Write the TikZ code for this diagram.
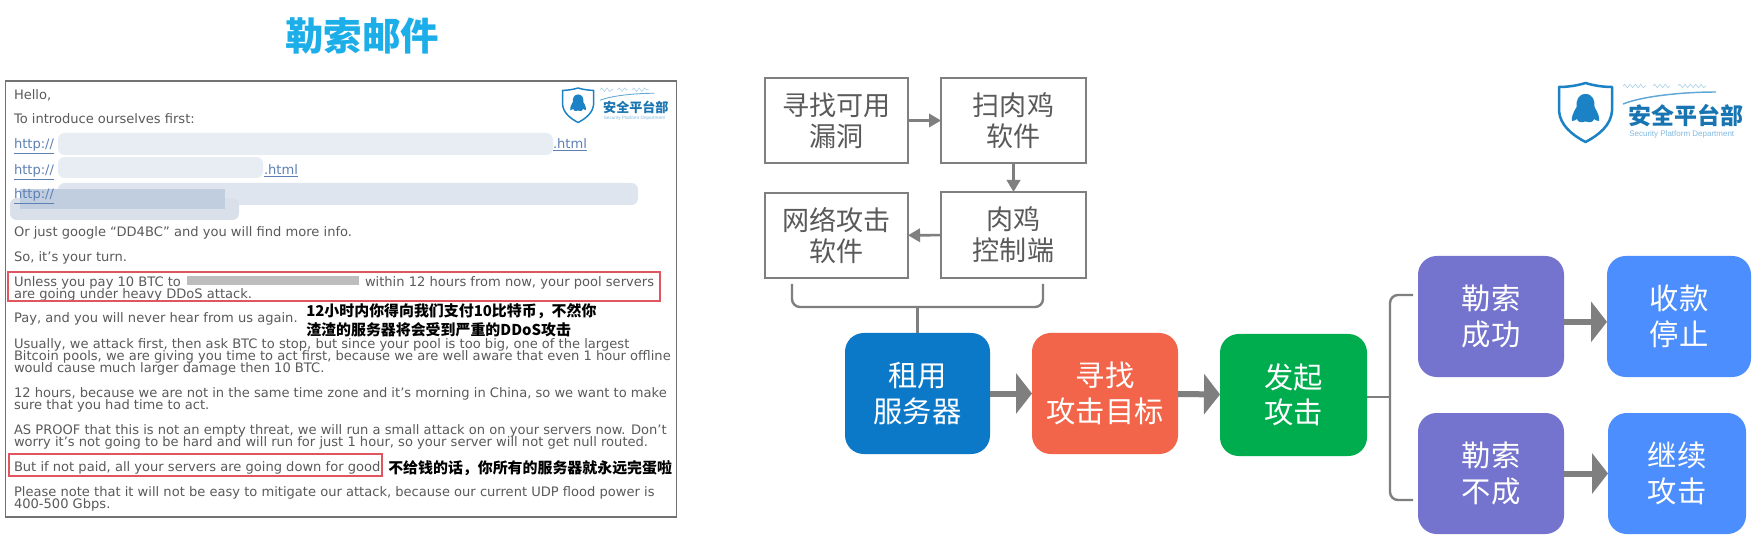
\documentclass[tikz,border=0pt]{standalone}
\usepackage{fontspec}
\setmainfont{DejaVu Sans}
\newfontfamily\cjk{Noto Sans CJK SC}
\newfontfamily\lib{Liberation Sans}
\usetikzlibrary{arrows.meta,decorations.pathmorphing}
\definecolor{mailgray}{HTML}{5A5A5A}
\definecolor{linkblue}{HTML}{5E80B4}
\definecolor{redbox}{HTML}{DF5560}
\definecolor{titleblue}{HTML}{1CAEE8}
\definecolor{arrowgray}{HTML}{7F7F7F}
\definecolor{logoblue}{HTML}{1C82C6}
\definecolor{cblue}{HTML}{0B78C8}
\definecolor{corange}{HTML}{F2654A}
\definecolor{cgreen}{HTML}{00AD4E}
\definecolor{cpurple}{HTML}{7473CE}
\definecolor{clight}{HTML}{4C8EFD}
\definecolor{blurA}{HTML}{E8EDF4}
\definecolor{blurB}{HTML}{DEE5EF}
\definecolor{blurC}{HTML}{D9E0EA}
\definecolor{blurD}{HTML}{C0CEE0}
\definecolor{blurE}{HTML}{BDBDBD}
\tikzset{
  sz/.style 2 args={minimum width=#1*0.75pt,minimum height=#2*0.75pt,inner sep=0pt,outer sep=0pt},
  mailtext/.style={anchor=base west,inner sep=0pt,outer sep=0pt,yshift=-1.1pt,text=mailgray,font=\fontsize{9.8pt}{11pt}\selectfont},
  maillink/.style={mailtext,text=linkblue},
  annot/.style={anchor=base west,inner sep=0pt,text=black,font=\cjk\bfseries\fontsize{11.2pt}{13pt}\selectfont},
  outlinebox/.style={draw=arrowgray,line width=1.9pt,fill=white,align=center,text=mailgray,font=\cjk\fontsize{20.3pt}{23.5pt}\selectfont},
  fillbox/.style={rounded corners=14pt,fill=#1,align=center,text=white,font=\cjk\fontsize{22pt}{26.5pt}\selectfont},
  thinarrow/.style={draw=arrowgray,line width=1.9pt,-{Triangle[length=9pt,width=10pt]}},
  thickarrow/.style={draw=arrowgray,line width=4.5pt,-{Triangle[length=12pt,width=30pt]}},
  bracket/.style={draw=arrowgray,line width=1.8pt,rounded corners=6pt},
  redframe/.style={draw=redbox,line width=1.3pt},
  blurpatch/.style={fill=#1,rounded corners=5pt},
  squiggle/.style={draw=logoblue!40,line width=.4pt,decorate,decoration={snake,amplitude=1.3pt,segment length=4pt}}
}
\newcommand{\seclogo}[6]{% prefix,x,y,scale,cjk size,small size
\begin{scope}[shift={(#2,#3)},scale=#4,name prefix=#1]
  \draw[draw=logoblue,line width=#4*1.9pt,fill=white,line join=round] (27.5,0) .. controls (18,3) and (8,4) .. (1,4) -- (1,28) .. controls (2,42) and (14,52) .. (27.5,59) .. controls (41,52) and (53,42) .. (54,28) -- (54,4) .. controls (47,4) and (37,3) .. (27.5,0) -- cycle;
  \fill[logoblue] (27.5,11) .. controls (20,11) and (18,18) .. (18.5,24) .. controls (15,30) and (13,35) .. (14,38) .. controls (16,38) and (18,37) .. (19,36) .. controls (20,39) and (22,40) .. (27.5,38.5) .. controls (33,40) and (35,39) .. (36,36) .. controls (37,37) and (39,38) .. (41,38) .. controls (42,35) and (40,30) .. (36.5,24) .. controls (37,18) and (35,11) .. (27.5,11) -- cycle;
  \draw[squiggle] (65,3) -- (88,3);
  \draw[squiggle] (95,3) -- (112,3);
  \draw[squiggle] (120,3) -- (148,3);
  \draw[logoblue!70,line width=#4*1.1pt] (65,21) .. controls (85,13) and (125,9) .. (158,9);
  \node[inner sep=0pt,anchor=west,text=logoblue!90!black,font=\cjk\bfseries\fontsize{#5}{#5}\selectfont] (cn) at (70,33) {安全平台部};
  \node[inner sep=0pt,anchor=west,text=logoblue!55,font=\lib\fontsize{#6}{#6}\selectfont] (en) at (71,51) {Security Platform Department};
\end{scope}}
\begin{document}
\begin{tikzpicture}[x=0.75pt,y=-0.75pt]
\useasboundingbox (0,0) rectangle (1758,541);
\fill[white] (0,0) rectangle (1758,541);
% ---- left: mail
\node[inner sep=0pt,text=titleblue,font=\cjk\bfseries\fontsize{28.8pt}{30pt}\selectfont] (title) at (362,36) {勒索邮件};
\node[sz={671}{436},draw=arrowgray!90!black,line width=1.2pt,anchor=north west] (mail) at (5.5,81) {};
% blur patches
\fill[blurpatch=blurA] (58,133) rectangle (553,155);
\fill[blurpatch=blurA] (58,157) rectangle (263,178);
\fill[blurpatch=blurB] (58,183) rectangle (638,205);
\fill[blurpatch=blurC] (10,198) rectangle (239,220);
\fill[blurD] (20,189) rectangle (225,209);
\fill[blurE] (187,276) rectangle (359,285);
\node[mailtext] (l1) at (14,98) {Hello,};
\node[mailtext] (l2) at (14,122) {To introduce ourselves first:};
\node[maillink] (h1) at (14,147) {\underline{http://}};
\node[maillink] (h1b) at (553,147) {\underline{.html}};
\node[maillink] (h2) at (14,173) {\underline{http://}};
\node[maillink] (h2b) at (264,173) {\underline{.html}};
\node[maillink] (h3) at (14,197) {\underline{http://}};
\node[mailtext] (l3) at (14,235) {Or just google “DD4BC” and you will find more info.};
\node[mailtext] (l4) at (14,260) {So, it’s your turn.};
\node[mailtext] (l5a) at (14,285) {Unless you pay 10 BTC to};
\node[mailtext] (l5b) at (365,285) {within 12 hours from now, your pool servers};
\node[mailtext] (l6) at (14,297) {are going under heavy DDoS attack.};
\node[mailtext] (l7) at (14,321) {Pay, and you will never hear from us again.};
\node[mailtext] (l8) at (14,347) {Usually, we attack first, then ask BTC to stop, but since your pool is too big, one of the largest};
\node[mailtext] (l9) at (14,359) {Bitcoin pools, we are giving you time to act first, because we are well aware that even 1 hour offline};
\node[mailtext] (l10) at (14,371) {would cause much larger damage then 10 BTC.};
\node[mailtext] (l11) at (14,396) {12 hours, because we are not in the same time zone and it’s morning in China, so we want to make};
\node[mailtext] (l12) at (14,408) {sure that you had time to act.};
\node[mailtext] (l13) at (14,433) {AS PROOF that this is not an empty threat, we will run a small attack on on your servers now. Don’t};
\node[mailtext] (l14) at (14,445) {worry it’s not going to be hard and will run for just 1 hour, so your server will not get null routed.};
\node[mailtext] (l15) at (14,470) {But if not paid, all your servers are going down for good};
\node[mailtext] (l16) at (14,495) {Please note that it will not be easy to mitigate our attack, because our current UDP flood power is};
\node[mailtext] (l17) at (14,507) {400-500 Gbps.};
\draw[redframe] (8,272) rectangle (660,301);
\draw[redframe] (9,454) rectangle (382,476);
\node[annot] (a1) at (306,317) {12小时内你得向我们支付10比特币^^^^ff0c不然你};
\node[annot] (a2) at (306,335) {渣渣的服务器将会受到严重的DDoS攻击};
\node[annot] (a3) at (388,473) {不给钱的话^^^^ff0c你所有的服务器就永远完蛋啦};
\seclogo{ml-}{562}{88}{0.585}{9.8pt}{3.5pt}
% ---- right: flow
\seclogo{rl-}{1558}{83}{1}{17.2pt}{6pt}
\node[outlinebox,sz={143}{85}] (A) at (836.5,120.5) {寻找可用\\漏洞};
\node[outlinebox,sz={145}{85}] (B) at (1013.5,120.5) {扫肉鸡\\软件};
\node[outlinebox,sz={143}{85}] (C) at (836.5,235.5) {网络攻击\\软件};
\node[outlinebox,sz={145}{86}] (D) at (1013.5,235) {肉鸡\\控制端};
\draw[thinarrow] (A) -- (B);
\draw[thinarrow] (B) -- (D);
\draw[thinarrow] (D) -- (C);
\node[fillbox=cblue,sz={145}{121}] (E) at (917.5,393.5) {租用\\服务器};
\node[fillbox=corange,sz={146}{121}] (F) at (1105,393.5) {寻找\\攻击目标};
\node[fillbox=cgreen,sz={147}{122}] (G) at (1293.5,395) {发起\\攻击};
\node[fillbox=cpurple,sz={146}{121}] (H) at (1491,316.5) {勒索\\成功};
\node[fillbox=clight,sz={144}{121}] (I) at (1679,316.5) {收款\\停止};
\node[fillbox=cpurple,sz={146}{121}] (J) at (1491,473.5) {勒索\\不成};
\node[fillbox=clight,sz={138}{121}] (K) at (1677,473.5) {继续\\攻击};
\draw[thickarrow] (E) -- (F);
\draw[thickarrow] (F) -- (G);
\draw[thickarrow] ([yshift=-4pt]H.east) -- ([yshift=-4pt]I.west);
\draw[thickarrow] (J.east) -- (K.west);
\coordinate (bl) at (792,284);
\coordinate (br) at (1043,284);
\coordinate (bm) at (917.5,307);
\draw[bracket] (bl) -- (792,307) -- (1043,307) -- (br);
\draw[bracket] (bm) -- (E.north);
\coordinate (hb) at (1413,295);
\coordinate (jb) at (1413,500);
\coordinate (gm) at (1390,397);
\draw[bracket] (hb) -- (1390,295) -- (1390,500) -- (jb);
\draw[bracket] (G.east |- gm) -- (gm);
\end{tikzpicture}
\end{document}
